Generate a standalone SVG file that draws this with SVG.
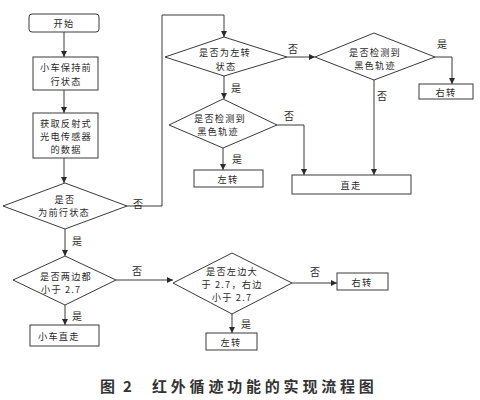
<svg xmlns="http://www.w3.org/2000/svg" width="480" height="400" viewBox="0 0 480 400">
<style>
.n{fill:#fff;stroke:#3a3a3a;stroke-width:1}
.t{font-family:"Noto Sans CJK SC","Noto Sans",sans-serif;font-size:9.2px;fill:#2a2a2a;text-anchor:middle;dominant-baseline:central;letter-spacing:1.2px}
.s{text-anchor:start}
.c{fill:none;stroke:#3a3a3a;stroke-width:1;marker-end:url(#a)}
.l{font-family:"Noto Sans CJK SC","Noto Sans",sans-serif;font-size:10px;fill:#2a2a2a;text-anchor:middle;dominant-baseline:central}
.cap{font-family:"Noto Sans CJK SC","Noto Sans",sans-serif;font-size:15px;font-weight:bold;fill:#333;dominant-baseline:central}
</style>
<defs>
<marker id="a" viewBox="0 0 8 8" refX="8" refY="4" markerWidth="6" markerHeight="6" orient="auto" markerUnits="userSpaceOnUse">
<path d="M0,0 L8,4 L0,8 z" fill="#2a2a2a"/>
</marker>
</defs>
<rect width="480" height="400" fill="#fff"/>
<g id="connectors">
<path class="c" d="M64,32 V57"/>
<path class="c" d="M64,90 V113"/>
<path class="c" d="M64,158 V183"/>
<path class="c" d="M65,229 V256"/>
<path class="c" d="M127,206 H162 V15 H224 V37"/>
<path class="c" d="M287,57 H315"/>
<path class="c" d="M435,57 H452 V84"/>
<path class="c" d="M374,80 V175"/>
<path class="c" d="M224,76 V99"/>
<path class="c" d="M277,125 H304 V175"/>
<path class="c" d="M223,148 V170"/>
<path class="c" d="M116,280 H173"/>
<path class="c" d="M65,305 V325"/>
<path class="c" d="M292,283 H337"/>
<path class="c" d="M232,314 V333"/>
<text class="l" x="138" y="203">否</text>
<text class="l" x="77" y="240">是</text>
<text class="l" x="137" y="270">否</text>
<text class="l" x="77" y="315">是</text>
<text class="l" x="293" y="48">否</text>
<text class="l" x="442" y="43">是</text>
<text class="l" x="382" y="95">否</text>
<text class="l" x="236" y="87">是</text>
<text class="l" x="289" y="115">否</text>
<text class="l" x="237" y="158">是</text>
<text class="l" x="315" y="271">否</text>
<text class="l" x="246" y="323">是</text>
</g>
<g id="start">
<rect class="n" x="29" y="14" width="70" height="18" rx="3"/>
<text class="t" x="64" y="23">开始</text>
</g>
<g id="keep-forward">
<rect class="n" x="33" y="57" width="65" height="33"/>
<text class="t" x="66" y="67">小车保持前</text>
<text class="t" x="66" y="81">行状态</text>
</g>
<g id="get-data">
<rect class="n" x="33" y="113" width="65" height="45"/>
<text class="t" x="66" y="123">获取反射式</text>
<text class="t" x="66" y="136">光电传感器</text>
<text class="t" x="66" y="149">的数据</text>
</g>
<g id="is-forward">
<polygon class="n" points="3,206 65,183 127,206 65,229"/>
<text class="t" x="65" y="199">是否</text>
<text class="t" x="64" y="212">为前行状态</text>
</g>
<g id="is-left">
<polygon class="n" points="165,57 224,37 287,57 224,76"/>
<text class="t" x="225" y="52">是否为左转</text>
<text class="t" x="226" y="66">状态</text>
</g>
<g id="detect-right">
<polygon class="n" points="315,57 374,33 435,57 374,80"/>
<text class="t" x="375" y="52">是否检测到</text>
<text class="t" x="375" y="65">黑色轨迹</text>
</g>
<g id="turn-right-top">
<rect class="n" x="419" y="84" width="54" height="15"/>
<text class="t" x="446" y="92">右转</text>
</g>
<g id="detect-left">
<polygon class="n" points="169,125 223,99 277,125 223,148"/>
<text class="t" x="220" y="118">是否检测到</text>
<text class="t" x="218" y="131">黑色轨迹</text>
</g>
<g id="turn-left-top">
<rect class="n" x="194" y="170" width="69" height="17"/>
<text class="t" x="228" y="179">左转</text>
</g>
<g id="straight">
<rect class="n" x="292" y="175" width="119" height="19"/>
<text class="t" x="351" y="185">直走</text>
</g>
<g id="both-less">
<polygon class="n" points="13,280 65,256 116,280 65,305"/>
<text class="t s" x="40" y="276">是否两边都</text>
<text class="t s" x="41" y="289">小于 2.7</text>
</g>
<g id="car-straight">
<rect class="n" x="30" y="325" width="69" height="21"/>
<text class="t s" x="38" y="336">小车直走</text>
</g>
<g id="left-greater">
<polygon class="n" points="173,283 232,253 292,283 232,314"/>
<text class="t" x="232" y="271">是否左边大</text>
<text class="t" x="232" y="284">于 2.7，右边</text>
<text class="t" x="232" y="297">小于 2.7</text>
</g>
<g id="turn-right-bottom">
<rect class="n" x="337" y="273" width="51" height="17"/>
<text class="t" x="362" y="282">右转</text>
</g>
<g id="turn-left-bottom">
<rect class="n" x="206" y="333" width="51" height="17"/>
<text class="t" x="231" y="342">左转</text>
</g>
<g id="caption">
<text class="cap" x="100" y="385">图</text>
<text class="cap" x="123" y="385">2</text>
<text class="cap" x="152" y="385" letter-spacing="3.8">红外循迹功能的实现流程图</text>
</g>
</svg>
